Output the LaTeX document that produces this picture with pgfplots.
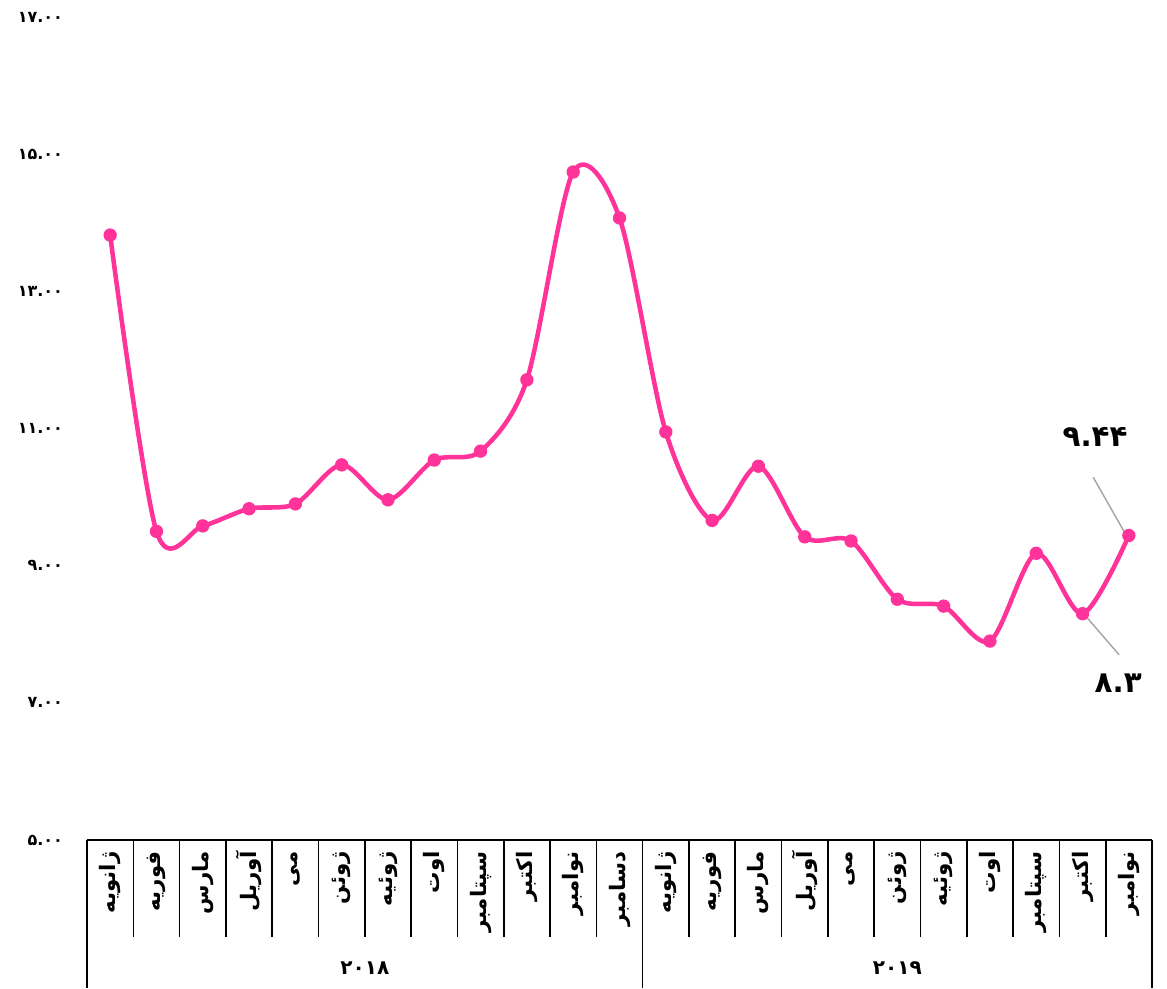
\documentclass[border=0pt]{standalone}
\usepackage{fontspec}
\usepackage{pgfplots}
\pgfplotsset{compat=1.18}
\TeXXeTstate=1
\newfontfamily\arabicfont[Script=Arabic]{DejaVu Sans}
\newcommand{\fa}[1]{\arabicfont\beginR #1\endR}
\definecolor{linepink}{HTML}{FF3399}
\definecolor{leadgray}{HTML}{A6A6A6}

\begin{document}
\begin{tikzpicture}
\begin{axis}[
    name=ax,
    scale only axis,
    width=798.75pt, height=617.25pt,
    xmin=-0.5, xmax=22.5,
    ymin=5, ymax=17,
    clip=false,
    axis line style={draw=none},
    xtick={0,...,22},
    xticklabels={\fa{ژانویه},\fa{فوریه},\fa{مارس},\fa{آوریل},\fa{می},\fa{ژوئن},\fa{ژوئیه},\fa{اوت},\fa{سپتامبر},\fa{اکتبر},\fa{نوامبر},\fa{دسامبر},
                 \fa{ژانویه},\fa{فوریه},\fa{مارس},\fa{آوریل},\fa{می},\fa{ژوئن},\fa{ژوئیه},\fa{اوت},\fa{سپتامبر},\fa{اکتبر},\fa{نوامبر}},
    xtick style={draw=none},
    x tick label style={rotate=90, anchor=east, xshift=-5pt,
        font=\arabicfont\bfseries\fontsize{16}{16}\selectfont},
    ytick={5,7,...,17},
    yticklabels={۵.۰۰,۷.۰۰,۹.۰۰,۱۱.۰۰,۱۳.۰۰,۱۵.۰۰,۱۷.۰۰},
    ytick style={draw=none},
    y tick label style={xshift=-14.5pt,
        font=\arabicfont\bfseries\fontsize{12}{12}\selectfont},
]
\addplot[linepink, line width=3.4pt, smooth, mark=*, mark size=4.5pt,
    mark options={fill=linepink, draw=linepink, line width=1pt}] table {
x y
0 13.82
1 9.50
2 9.58
3 9.83
4 9.90
5 10.47
6 9.96
7 10.54
8 10.67
9 11.71
10 14.74
11 14.07
12 10.95
13 9.66
14 10.45
15 9.42
16 9.36
17 8.51
18 8.41
19 7.90
20 9.18
21 8.30
22 9.44
};

% category table under the axis
\draw[line width=1.2pt] (axis cs:-0.5,5) -- (axis cs:22.5,5);
\pgfplotsinvokeforeach{-0.5,0.5,...,22.5}{
    \draw[line width=1.2pt] (axis cs:#1,5) -- ++(0pt,-72.75pt);
}
\pgfplotsinvokeforeach{-0.5,11.5,22.5}{
    \draw[line width=1.2pt] (axis cs:#1,5) -- ++(0pt,-111pt);
}
\node[font=\arabicfont\bfseries\fontsize{15}{15}\selectfont, yshift=-96pt] at (axis cs:5.5,5) {۲۰۱۸};
\node[font=\arabicfont\bfseries\fontsize{15}{15}\selectfont, yshift=-96pt] at (axis cs:17,5) {۲۰۱۹};

% data labels
\draw[leadgray, line width=1.1pt] (axis cs:21.23,10.29) -- (axis cs:21.92,9.47);
\draw[leadgray, line width=1.1pt] (axis cs:21.01,8.31) -- (axis cs:21.79,7.70);
\node[font=\arabicfont\bfseries\fontsize{22}{22}\selectfont] at (axis cs:21.27,10.87) {۹.۴۴};
\node[font=\arabicfont\bfseries\fontsize{22}{22}\selectfont] at (axis cs:21.77,7.29) {۸.۳};
\end{axis}
\path ([xshift=-65.25pt,yshift=-111pt]ax.south west) rectangle ([xshift=810pt,yshift=630pt]ax.south west);
\end{tikzpicture}
\end{document}
